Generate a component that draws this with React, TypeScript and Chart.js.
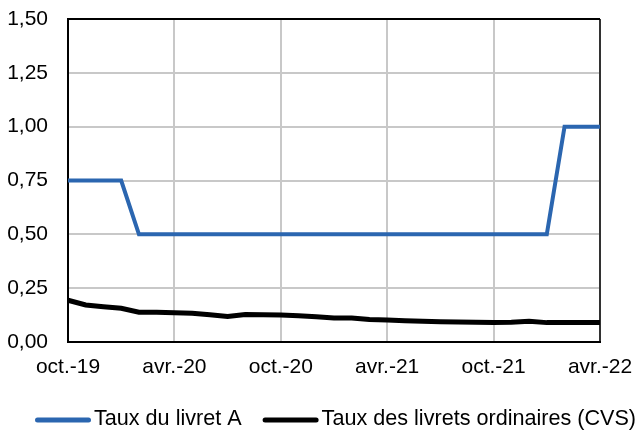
import React, { useEffect, useRef } from "react";
import { Chart, registerables } from "chart.js";

Chart.register(...registerables);

const months = [
  "oct.-19", "nov.-19", "déc.-19",
  "janv.-20", "févr.-20", "mars-20", "avr.-20", "mai-20", "juin-20",
  "juil.-20", "août-20", "sept.-20", "oct.-20", "nov.-20", "déc.-20",
  "janv.-21", "févr.-21", "mars-21", "avr.-21", "mai-21", "juin-21",
  "juil.-21", "août-21", "sept.-21", "oct.-21", "nov.-21", "déc.-21",
  "janv.-22", "févr.-22", "mars-22", "avr.-22",
];

const livretA = [
  0.75, 0.75, 0.75, 0.75,
  0.5, 0.5, 0.5, 0.5, 0.5, 0.5, 0.5, 0.5, 0.5, 0.5, 0.5, 0.5,
  0.5, 0.5, 0.5, 0.5, 0.5, 0.5, 0.5, 0.5, 0.5, 0.5, 0.5, 0.5,
  1.0, 1.0, 1.0,
];

const livretsOrdinaires = [
  0.194, 0.172, 0.164, 0.157, 0.138, 0.138, 0.136, 0.133, 0.127, 0.118,
  0.128, 0.127, 0.125, 0.122, 0.117, 0.112, 0.111, 0.105, 0.102, 0.099,
  0.096, 0.094, 0.093, 0.092, 0.091, 0.092, 0.096, 0.090, 0.091, 0.091,
  0.090,
];

const seriesNames = ["Taux du livret A", "Taux des livrets ordinaires (CVS)"];
const seriesColors = ["#2B66B0", "#000000"];

const FONT = "'Liberation Sans', Arial, sans-serif";
const FONT_SIZE = 21;
const LEGEND_FONT_SIZE = 21.6;

const framePlugin = {
  id: "frame",
  beforeDatasetsDraw(chart: any) {
    const { ctx, chartArea: a } = chart;
    ctx.save();
    ctx.strokeStyle = "#000";
    ctx.lineWidth = 2;
    ctx.beginPath();
    ctx.moveTo(a.left - 1, a.top);
    ctx.lineTo(a.right, a.top);
    ctx.stroke();
    ctx.lineWidth = 1.5;
    ctx.beginPath();
    ctx.moveTo(a.right, a.top);
    ctx.lineTo(a.right, a.bottom);
    ctx.stroke();
    ctx.restore();
  },
};

const legendPlugin = {
  id: "lineLegend",
  afterDraw(chart: any) {
    const ctx = chart.ctx;
    ctx.save();
    ctx.font = `${LEGEND_FONT_SIZE}px ${FONT}`;
    ctx.textBaseline = "middle";
    ctx.textAlign = "left";
    let x = 35;
    const y = 420;
    chart.data.datasets.forEach((ds: any) => {
      ctx.strokeStyle = ds.borderColor;
      ctx.lineWidth = 5;
      ctx.lineCap = "round";
      ctx.beginPath();
      ctx.moveTo(x + 2.5, y);
      ctx.lineTo(x + 53.5, y);
      ctx.stroke();
      ctx.fillStyle = "#000";
      ctx.fillText(ds.label, x + 59, y - 1);
      x += 59 + ctx.measureText(ds.label).width + 21;
    });
    ctx.restore();
  },
};

export default function App() {
  const ref = useRef<HTMLCanvasElement>(null);

  useEffect(() => {
    if (!ref.current) return;
    const chart = new Chart(ref.current, {
      type: "line",
      data: {
        labels: months,
        datasets: [
          {
            label: seriesNames[0],
            data: livretA,
            borderColor: seriesColors[0],
            backgroundColor: seriesColors[0],
            borderWidth: 4,
            pointRadius: 0,
            tension: 0,
            fill: false,
          },
          {
            label: seriesNames[1],
            data: livretsOrdinaires,
            borderColor: seriesColors[1],
            backgroundColor: seriesColors[1],
            borderWidth: 5,
            pointRadius: 0,
            tension: 0,
            fill: false,
          },
        ],
      },
      options: {
        responsive: false,
        animation: false,
        devicePixelRatio: 1,
        layout: { padding: { top: 19, right: 35, bottom: 48, left: 0 } },
        plugins: {
          legend: { display: false },
          tooltip: { enabled: false },
        },
        scales: {
          x: {
            offset: false,
            grid: { color: "#C8C8C8", lineWidth: 2, drawTicks: false },
            border: { color: "#000", width: 2 },
            ticks: {
              autoSkip: false,
              maxRotation: 0,
              minRotation: 0,
              padding: 13,
              color: "#000",
              font: { family: FONT, size: FONT_SIZE },
              callback: (_v: any, i: number) => (i % 6 === 0 ? months[i] : null),
            },
            afterFit: (s: any) => {
              s.paddingLeft = 0;
              s.paddingRight = 0;
              s.height = 40;
            },
          },
          y: {
            min: 0,
            max: 1.5,
            grid: { color: "#C8C8C8", lineWidth: 2, drawTicks: false },
            border: { color: "#000", width: 2 },
            ticks: {
              stepSize: 0.25,
              padding: 20,
              color: "#000",
              font: { family: FONT, size: FONT_SIZE },
              callback: (v: any) => Number(v).toFixed(2).replace(".", ","),
            },
            afterFit: (s: any) => {
              s.width = 68;
              s.paddingTop = 0;
              s.paddingBottom = 0;
            },
          },
        },
      },
      plugins: [framePlugin, legendPlugin],
    });
    return () => chart.destroy();
  }, []);

  return (
    <div style={{ position: "fixed", left: 0, top: 0, width: 635, height: 430 }}>
      <canvas ref={ref} width={635} height={430} />
    </div>
  );
}
